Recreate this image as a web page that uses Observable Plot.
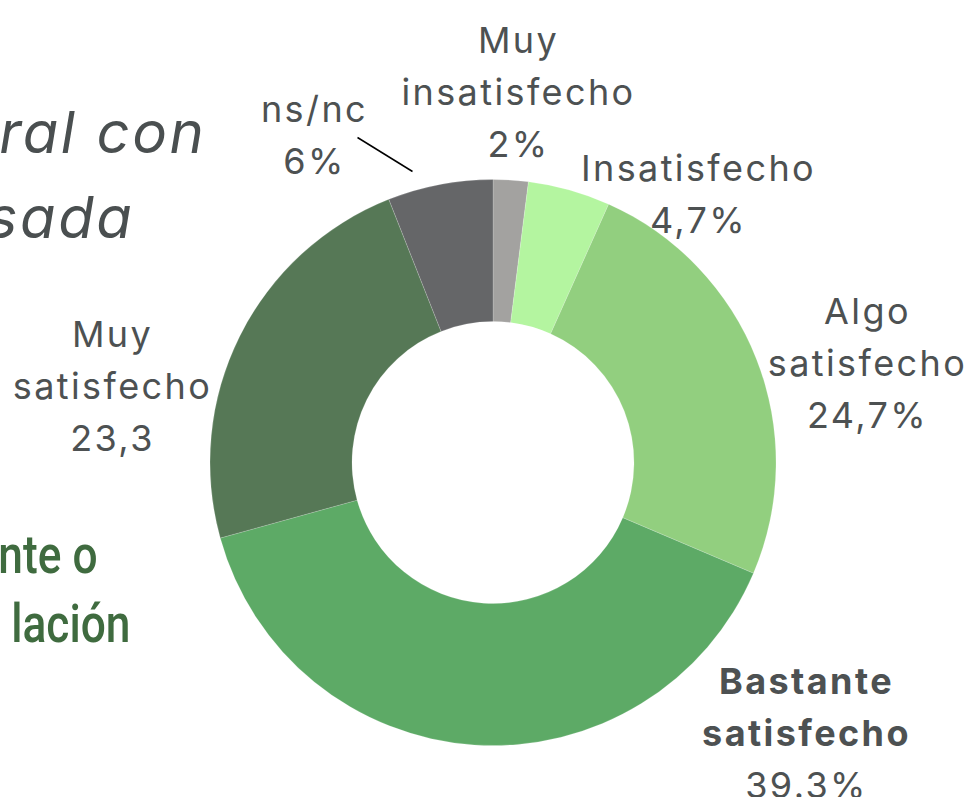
<!DOCTYPE html>
<html><head><meta charset="utf-8">
<script src="https://cdn.jsdelivr.net/npm/d3@7"></script>
<script src="https://cdn.jsdelivr.net/npm/@observablehq/plot@0.6"></script>
<style>html,body{margin:0;padding:0;background:#fff;overflow:hidden} #chart svg{display:block}</style>
</head><body><div id="chart"></div>
<script>
// ---- data ----
const categories = ["Muy insatisfecho","Insatisfecho","Algo satisfecho","Bastante satisfecho","Muy satisfecho","ns/nc"];
const values = [2, 4.7, 24.7, 39.3, 23.3, 6];
const valueLabels = ["2%","4,7%","24,7%","39.3%","23,3","6%"];
const nameLines = [["Muy","insatisfecho"],["Insatisfecho"],["Algo","satisfecho"],["Bastante","satisfecho"],["Muy","satisfecho"],["ns/nc"]];
const colors = ["#a3a2a0","#b4f5a0","#92cf7f","#5daa66","#567856","#656668"];
const titleFragments = ["ral con","sada"];
const noteFragments = ["nte o","lación"];

// ---- layout (pixel units relative to donut centre) ----
const W = 969, H = 797, CX = 493, CY = 462.5;
const outerR = 283, innerR = 141;
const labelAnchor = [[25,-410.5],[205,-282.5],[374,-139.5],[313,230.5],[-381,-116.5],[-179,-341.5]];
const lineStep = 52;
const labelSize = 36;
const boldIndex = 3;
const leader = {x1:-136, y1:-325.5, x2:-81, y2:-291.5};
const titlePos = [[-287,-310.5],[-359,-225.5]];
const notePos = [[-396,109.5],[-363,178.5]];
const noteSize = 54, noteSquash = 0.82;

const data = categories.map((c,i)=>({category:c, value:values[i]}));
const color = Plot.scale({color:{type:"ordinal", domain:categories, range:colors}});

const normalRows = [], boldRows = [];
categories.forEach((c,i)=>{
  const [ax, ay] = labelAnchor[i];
  const lines = nameLines[i];
  lines.forEach((t,j)=>{
    (i===boldIndex ? boldRows : normalRows).push({x:ax, y:ay + j*lineStep, text:t});
  });
  normalRows.push({x:ax, y:ay + lines.length*lineStep, text:valueLabels[i]});
});
const noteRows = noteFragments.map((t,i)=>({text:t, x:notePos[i][0], y:notePos[i][1]}));
const base = (s)=> -0.32*s; // baseline -> middle shift

function donut(index, scales) {
  const cx = scales.x(0), cy = scales.y(0);
  const R = scales.x(outerR) - cx, r = scales.x(innerR) - cx;
  const arcs = d3.pie().sort(null).value(d=>d.value)(data);
  const arc = d3.arc().innerRadius(r).outerRadius(R);
  const g = d3.create("svg:g").attr("transform", `translate(${cx},${cy})`);
  g.selectAll("path").data(arcs).join("path")
    .attr("d", arc)
    .attr("fill", d=>color.apply(d.data.category))
    .attr("stroke", "#ffffff").attr("stroke-opacity", 0.22).attr("stroke-width", 0.8);
  return g.node();
}

const labelFont = "Inter, 'Open Sans', sans-serif";
const chart = Plot.plot({
  width: W, height: H,
  margin: 0,
  x: {domain:[-CX, W-CX], range:[0, W], axis:null},
  y: {domain:[-CY, H-CY], range:[0, H], axis:null},
  style: {background:"#fff", overflow:"hidden"},
  marks: [
    donut,
    Plot.link([leader], {x1:"x1", y1:"y1", x2:"x2", y2:"y2", stroke:"#000", strokeWidth:1.5}),
    Plot.text(normalRows, {x:"x", y:d=>d.y + base(labelSize), text:"text", fontSize:labelSize, fontFamily:labelFont, fill:"#4d5152", textAnchor:"middle"}),
    Plot.text(boldRows, {x:"x", y:d=>d.y + base(labelSize), text:"text", fontSize:labelSize, fontFamily:labelFont, fontWeight:700, fill:"#4d5152", textAnchor:"middle"}),
    Plot.text(titleFragments.map((t,i)=>({text:t, x:titlePos[i][0], y:titlePos[i][1]})), {x:"x", y:d=>d.y + base(58), text:"text", fontSize:58, fontStyle:"italic", fontFamily:labelFont, fill:"#4a4f50", textAnchor:"end"}),
    Plot.text(noteRows, {x:"x", y:d=>d.y + base(noteSize), text:"text", fontSize:noteSize, fontFamily:"Roboto, sans-serif", fontWeight:500, fill:"#3f6b3f", textAnchor:"end"})
  ]
});
// typographic tweaks (letter spacing, condensed note text)
const sx = chart.scale("x"), sy = chart.scale("y");
const labelSet = new Set([...normalRows, ...boldRows].map(d=>d.text));
const titleSet = new Set(titleFragments);
d3.select(chart).selectAll("text").each(function(){
  const s = this.textContent;
  if (labelSet.has(s)) this.style.letterSpacing = "2.4px";
  else if (titleSet.has(s)) this.style.letterSpacing = "2.6px";
  else {
    const row = noteRows.find(d=>d.text===s);
    if (row) {
      const px = sx.apply(row.x), py = sy.apply(row.y + base(noteSize));
      this.setAttribute("transform", `translate(${px},${py}) scale(${noteSquash},1)`);
    }
  }
});
document.getElementById("chart").appendChild(chart);
</script>
</body></html>
